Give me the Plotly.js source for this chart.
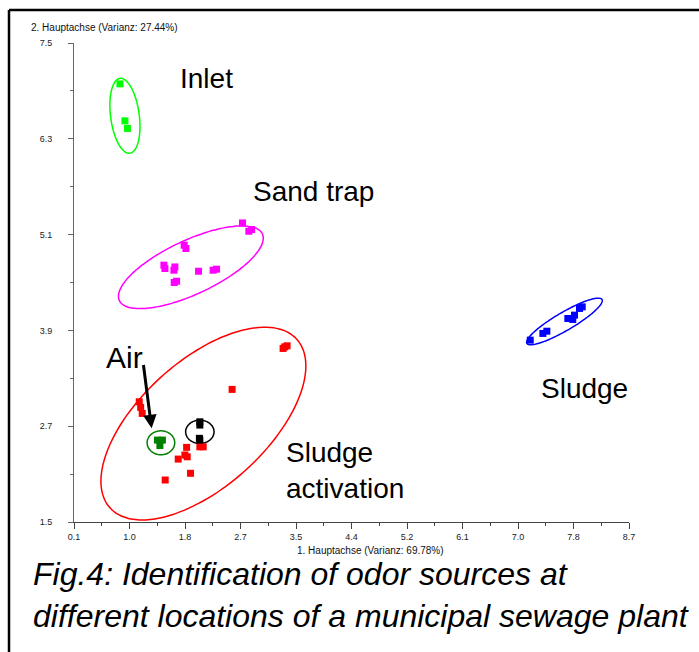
<!DOCTYPE html>
<html>
<head>
<meta charset="utf-8">
<script src="https://cdn.plot.ly/plotly-3.0.1.min.js"></script>
<style>
html,body{margin:0;padding:0;background:#fff;}
#chart{width:699px;height:652px;}
</style>
</head>
<body>
<div id="chart"></div>
<script>
// ---- data ----
const inletX = [0.812, 0.889, 0.928];
const inletY = [6.988, 6.525, 6.430];

const sandX = [2.711, 2.809, 2.851, 1.807, 1.834, 1.493, 1.509, 1.663, 1.648, 1.690, 1.653, 2.030, 2.256, 2.309];
const sandY = [5.246, 5.142, 5.163, 4.967, 4.926, 4.717, 4.675, 4.695, 4.654, 4.516, 4.500, 4.641, 4.654, 4.667];

const sludgeX = [7.170, 7.365, 7.427, 7.752, 7.829, 7.856, 7.933, 7.975];
const sludgeY = [3.778, 3.862, 3.890, 4.049, 4.037, 4.091, 4.175, 4.195];

const activX = [3.340, 3.402, 3.366, 2.550, 1.111, 1.133, 1.157, 1.845, 2.050, 2.102, 1.715, 1.818, 1.854, 1.906, 1.513];
const activY = [3.674, 3.707, 3.694, 3.161, 3.006, 2.936, 2.860, 2.435, 2.442, 2.442, 2.288, 2.339, 2.317, 2.110, 2.026];

const airX = [1.393, 1.470, 1.431];
const airY = [2.526, 2.526, 2.457];

const otherX = [2.050, 2.050, 2.043, 2.050];
const otherY = [2.755, 2.714, 2.548, 2.526];

// confidence ellipses: centre and two conjugate half-axis vectors (data units)
const ellipseNames = ["Inlet", "Sand trap", "Sludge", "Sludge activation", "Air", "Other"];
const ellipseCX = [0.889, 1.911, 7.700, 2.105, 1.447, 2.050];
const ellipseCY = [6.588, 4.691, 4.012, 2.733, 2.492, 2.630];
const ellipseUX = [-0.077, 1.108, 0.582, 1.447, 0.214, 0.220];
const ellipseUY = [0.469, 0.418, 0.275, 1.056, 0.000, 0.000];
const ellipseVX = [0.220, -0.177, -0.071, -0.653, 0.000, 0.000];
const ellipseVY = [0.024, 0.306, 0.098, 0.585, 0.150, 0.146];

const xTickVals = [0.1, 0.96, 1.82, 2.68, 3.54, 4.4, 5.26, 6.12, 6.98, 7.84, 8.7];
const xTickText = ["0.1", "1.0", "1.8", "2.7", "3.5", "4.4", "5.2", "6.1", "7.0", "7.8", "8.7"];
const yTickVals = [1.5, 2.7, 3.9, 5.1, 6.3, 7.5];
const yTickText = ["1.5", "2.7", "3.9", "5.1", "6.3", "7.5"];

// ---- styles ----
const groupColors = {
  inlet: "#00ff00", sand: "#ff00ff", sludge: "#0000ff",
  activ: "#ff0000", air: "#008000", other: "#000000"
};
const ellipseColors = ["#00ff00", "#ff00ff", "#0000ff", "#ff0000", "#008000", "#000000"];

function pts(x, y, color) {
  return {
    x: x, y: y, type: "scatter", mode: "markers", hoverinfo: "skip",
    marker: {symbol: "square", size: 7, color: color, line: {width: 0}}
  };
}

const traces = [];
for (let i = 0; i < ellipseNames.length; i++) {
  const ex = [], ey = [];
  const n = 120;
  for (let k = 0; k <= n; k++) {
    const t = 2 * Math.PI * k / n;
    ex.push(ellipseCX[i] + ellipseUX[i] * Math.cos(t) + ellipseVX[i] * Math.sin(t));
    ey.push(ellipseCY[i] + ellipseUY[i] * Math.cos(t) + ellipseVY[i] * Math.sin(t));
  }
  traces.push({
    x: ex, y: ey, type: "scatter", mode: "lines", hoverinfo: "skip",
    name: ellipseNames[i],
    line: {color: ellipseColors[i], width: 1.5, shape: "spline"}
  });
}
traces.push(pts(inletX, inletY, groupColors.inlet));
traces.push(pts(sandX, sandY, groupColors.sand));
traces.push(pts(sludgeX, sludgeY, groupColors.sludge));
traces.push(pts(activX, activY, groupColors.activ));
traces.push(pts(airX, airY, groupColors.air));
traces.push(pts(otherX, otherY, groupColors.other));

const bigFont = {family: "Liberation Sans, Arial, sans-serif", size: 28, color: "#000"};
const smallFont = {family: "Liberation Sans, Arial, sans-serif", size: 10, color: "#111"};

const layout = {
  width: 699, height: 652,
  margin: {l: 74, r: 70, t: 43, b: 130, pad: 0},
  paper_bgcolor: "#fff", plot_bgcolor: "#fff",
  showlegend: false,
  xaxis: {
    range: [0.1, 8.7], tickmode: "array", tickvals: xTickVals, ticktext: xTickText,
    showgrid: false, zeroline: false, showline: true, linecolor: "#444", linewidth: 1,
    ticks: "outside", ticklen: 6, tickcolor: "#444", tickwidth: 1,
    tickfont: {family: "Liberation Sans, Arial, sans-serif", size: 9, color: "#222"},
    minor: {tickmode: "linear", tick0: 0.1, dtick: 0.43, ticks: "outside", ticklen: 3, tickcolor: "#444", showgrid: false},
    fixedrange: true
  },
  yaxis: {
    range: [1.5, 7.5], tickmode: "array", tickvals: yTickVals, ticktext: yTickText,
    showgrid: false, zeroline: false, showline: true, linecolor: "#666", linewidth: 1,
    ticks: "outside", ticklen: 5, tickcolor: "#666", tickwidth: 1,
    ticklabelstandoff: 14,
    tickfont: {family: "Liberation Sans, Arial, sans-serif", size: 9, color: "#222"},
    minor: {tickmode: "linear", tick0: 1.5, dtick: 0.6, ticks: "outside", ticklen: 3, tickcolor: "#666", showgrid: false},
    fixedrange: true
  },
  annotations: [
    {text: "2. Hauptachse (Varianz: 27.44%)", xref: "paper", yref: "paper",
     x: (29 - 74) / 555, y: (522 - 27) / 479, xanchor: "left", yanchor: "middle",
     showarrow: false, font: smallFont},
    {text: "1. Hauptachse (Varianz: 69.78%)", xref: "paper", yref: "paper",
     x: (370 - 74) / 555, y: (522 - 550) / 479, xanchor: "center", yanchor: "middle",
     showarrow: false, font: smallFont},
    {text: "Inlet", xref: "x", yref: "y", x: 2.151, y: 7.057, xanchor: "center", yanchor: "middle", showarrow: false, font: bigFont},
    {text: "Sand trap", xref: "x", yref: "y", x: 3.81, y: 5.643, xanchor: "center", yanchor: "middle", showarrow: false, font: bigFont},
    {text: "Sludge", xref: "x", yref: "y", x: 8.01, y: 3.177, xanchor: "center", yanchor: "middle", showarrow: false, font: bigFont},
    {text: "Sludge<br>activation", xref: "x", yref: "y", x: 3.351, y: 2.148, xanchor: "left", yanchor: "middle", align: "left", showarrow: false, font: bigFont},
    {text: "Air", xref: "x", yref: "y", x: 0.89, y: 3.565, xanchor: "center", yanchor: "middle", showarrow: false, font: {family: "Liberation Sans, Arial, sans-serif", size: 30, color: "#000"}},
    {text: "", xref: "x", yref: "y", x: 1.303, y: 2.673, axref: "x", ayref: "y", ax: 1.173, ay: 3.486,
     showarrow: true, arrowhead: 2, arrowsize: 0.9, arrowwidth: 3, arrowcolor: "#000", standoff: 0, startstandoff: 0},
    {text: "Fig.4: Identification of odor sources at<br>different locations of a municipal sewage plant",
     xref: "paper", yref: "paper", x: (31 - 74) / 555, y: (522 - 595) / 479,
     xanchor: "left", yanchor: "middle", align: "left", showarrow: false,
     font: {family: "Liberation Sans Narrow, Arial Narrow, Liberation Sans, sans-serif", size: 32, color: "#000", style: "italic"}}
  ],
  shapes: [
    {type: "line", xref: "paper", yref: "paper", x0: (9 - 74) / 555, x1: (9 - 74) / 555, y0: (522 - 10) / 479, y1: (522 - 700) / 479,
     line: {color: "#000", width: 2.5}},
    {type: "line", xref: "paper", yref: "paper", x0: (9 - 74) / 555, x1: (760 - 74) / 555, y0: (522 - 10) / 479, y1: (522 - 10) / 479,
     line: {color: "#000", width: 2.5}}
  ]
};

Plotly.newPlot("chart", traces, layout, {staticPlot: true, displayModeBar: false});
</script>
</body>
</html>
